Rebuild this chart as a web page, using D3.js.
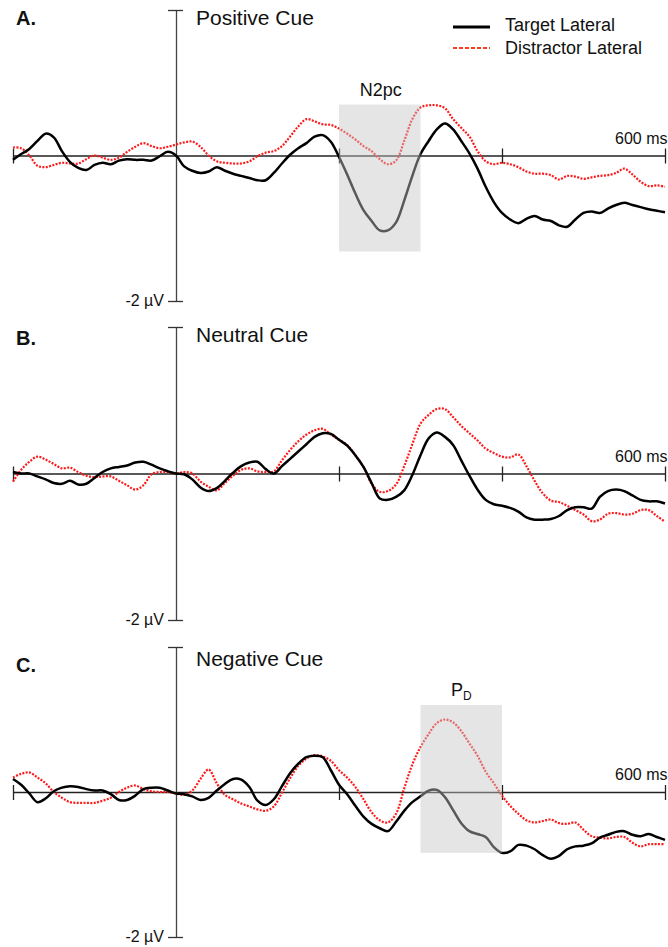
<!DOCTYPE html>
<html>
<head>
<meta charset="utf-8">
<script src="https://cdn.jsdelivr.net/npm/d3@7"></script>
<style>
  html, body { margin: 0; padding: 0; background: #fff; }
  svg { display: block; font-family: "Liberation Sans", Arial, Helvetica, sans-serif; }
</style>
</head>
<body>
<svg id="chart" width="668" height="947"></svg>
<script>
// ── data (µV, sampled every 10 ms from -200 to 600 ms) ──────────────────
const times = [-200,-190,-180,-170,-160,-150,-140,-130,-120,-110,-100,-90,-80,-70,-60,-50,-40,-30,-20,-10,
  0,10,20,30,40,50,60,70,80,90,100,110,120,130,140,150,160,170,180,190,
  200,210,220,230,240,250,260,270,280,290,300,310,320,330,340,350,360,370,380,390,
  400,410,420,430,440,450,460,470,480,490,500,510,520,530,540,550,560,570,580,590,600];

const panelNames = ['Positive Cue', 'Neutral Cue', 'Negative Cue'];
const panelLetters = ['A.', 'B.', 'C.'];
const seriesNames = ['Target Lateral', 'Distractor Lateral'];

const targetPositive = [-0.06,0.02,0.09,0.20,0.30,0.25,0.06,-0.09,-0.17,-0.20,-0.13,-0.10,-0.12,-0.07,-0.05,-0.06,-0.06,-0.07,-0.01,0.05,
  0.00,-0.15,-0.21,-0.24,-0.22,-0.16,-0.21,-0.25,-0.28,-0.31,-0.34,-0.34,-0.24,-0.11,0.01,0.10,0.17,0.26,0.28,0.19,
  -0.02,-0.26,-0.52,-0.75,-0.90,-1.03,-1.03,-0.92,-0.62,-0.28,0.02,0.20,0.36,0.44,0.36,0.20,0.03,-0.18,-0.43,-0.64,
  -0.79,-0.88,-0.93,-0.87,-0.83,-0.88,-0.90,-0.96,-0.98,-0.88,-0.79,-0.77,-0.79,-0.73,-0.68,-0.65,-0.68,-0.71,-0.74,-0.76,-0.78];
const distractorPositive = [0.11,0.10,0.00,-0.14,-0.16,-0.13,-0.10,-0.11,-0.11,-0.05,0.00,-0.03,-0.06,-0.03,0.05,0.12,0.17,0.13,0.10,0.12,
  0.15,0.18,0.19,0.12,0.00,-0.08,-0.10,-0.11,-0.11,-0.08,-0.01,0.04,0.06,0.13,0.26,0.40,0.50,0.47,0.43,0.42,
  0.37,0.30,0.22,0.13,0.06,-0.05,-0.12,-0.07,0.20,0.50,0.66,0.69,0.69,0.65,0.50,0.38,0.26,0.06,-0.08,-0.12,
  -0.10,-0.12,-0.16,-0.22,-0.25,-0.25,-0.27,-0.33,-0.28,-0.29,-0.32,-0.30,-0.28,-0.27,-0.24,-0.18,-0.26,-0.36,-0.42,-0.41,-0.43];

const targetNeutral = [0.02,0.00,0.00,-0.04,-0.08,-0.13,-0.14,-0.10,-0.15,-0.14,-0.06,0.02,0.07,0.09,0.11,0.15,0.16,0.12,0.07,0.03,
  0.00,-0.01,-0.08,-0.19,-0.24,-0.20,-0.10,0.01,0.10,0.15,0.16,0.06,0.00,0.10,0.20,0.30,0.40,0.50,0.55,0.54,
  0.46,0.38,0.25,0.09,-0.13,-0.34,-0.36,-0.32,-0.23,-0.02,0.25,0.48,0.56,0.50,0.39,0.18,-0.03,-0.22,-0.36,-0.42,
  -0.44,-0.47,-0.52,-0.60,-0.63,-0.63,-0.62,-0.58,-0.50,-0.46,-0.46,-0.48,-0.32,-0.24,-0.22,-0.24,-0.30,-0.36,-0.38,-0.38,-0.41];
const distractorNeutral = [-0.11,0.05,0.16,0.23,0.19,0.13,0.07,0.08,0.02,-0.03,-0.05,-0.04,-0.04,-0.10,-0.16,-0.22,-0.16,-0.01,0.02,0.02,
  0.00,0.02,0.00,-0.11,-0.18,-0.23,-0.13,-0.03,0.05,0.07,0.03,0.02,0.03,0.18,0.32,0.44,0.53,0.59,0.61,0.53,
  0.46,0.39,0.25,0.09,-0.14,-0.25,-0.24,-0.15,0.10,0.40,0.68,0.80,0.88,0.88,0.77,0.65,0.55,0.45,0.34,0.28,
  0.23,0.22,0.26,0.10,-0.10,-0.27,-0.37,-0.39,-0.44,-0.50,-0.56,-0.65,-0.63,-0.55,-0.54,-0.56,-0.55,-0.50,-0.50,-0.58,-0.66];

const targetNegative = [0.18,0.10,-0.02,-0.14,-0.09,0.01,0.06,0.08,0.07,0.04,0.02,0.02,-0.03,-0.11,-0.11,-0.05,0.04,0.06,0.06,0.02,
  -0.02,-0.03,-0.06,-0.11,-0.08,0.02,0.11,0.18,0.17,0.07,-0.12,-0.18,-0.10,0.08,0.26,0.39,0.48,0.50,0.48,0.30,
  0.10,-0.03,-0.19,-0.34,-0.44,-0.50,-0.54,-0.41,-0.26,-0.14,-0.06,0.02,0.03,-0.07,-0.25,-0.43,-0.54,-0.58,-0.62,-0.76,
  -0.84,-0.82,-0.73,-0.74,-0.79,-0.87,-0.92,-0.88,-0.79,-0.75,-0.74,-0.71,-0.63,-0.59,-0.55,-0.54,-0.59,-0.61,-0.58,-0.62,-0.66];
const distractorNegative = [0.20,0.25,0.27,0.20,0.12,0.00,-0.08,-0.14,-0.15,-0.15,-0.15,-0.12,-0.08,0.00,0.06,0.09,0.04,0.01,0.00,0.00,
  -0.02,-0.04,0.02,0.18,0.31,0.12,-0.04,-0.10,-0.16,-0.20,-0.24,-0.26,-0.20,-0.01,0.19,0.36,0.46,0.51,0.49,0.43,
  0.30,0.20,0.07,-0.10,-0.28,-0.39,-0.42,-0.30,0.05,0.38,0.62,0.80,0.95,1.00,0.96,0.84,0.67,0.50,0.28,0.12,
  -0.05,-0.19,-0.30,-0.39,-0.42,-0.40,-0.38,-0.43,-0.44,-0.42,-0.52,-0.61,-0.63,-0.64,-0.62,-0.62,-0.70,-0.75,-0.72,-0.72,-0.72];

const targetSeries = [targetPositive, targetNeutral, targetNegative];
const distractorSeries = [distractorPositive, distractorNeutral, distractorNegative];

// highlighted component windows
const windows = [
  { panel: 0, t0: 200, t1: 300, vTop: 0.70, vBottom: -1.32, label: 'N2pc', sub: '' },
  { panel: 2, t0: 300, t1: 400, vTop: 1.20, vBottom: -0.84, label: 'P', sub: 'D' }
];

const xTicks = [-200, 200, 400, 600];
const yTicks = [-2, 2];

// ── layout ───────────────────────────────────────────────────────────────
const layout = [
  { top: 10,  bottom: 301, letterY: 25,  titleY: 25 },
  { top: 327, bottom: 620, letterY: 345, titleY: 342 },
  { top: 647, bottom: 937, letterY: 672, titleY: 666 }
];

const svg = d3.select('#chart');
const x = d3.scaleLinear().domain([-200, 600]).range([13, 665]);

const lineStyle = {
  target:     { stroke: '#000', width: 2.5, dash: null },
  distractor: { stroke: '#ff1a1a', width: 2.2, dash: '2 1.4' }
};

layout.forEach((L, i) => {
  const y = d3.scaleLinear().domain([-2, 2]).range([L.bottom, L.top]);
  const g = svg.append('g');

  const line = d3.line()
    .x((d, j) => x(times[j]))
    .y(d => y(d))
    .curve(d3.curveCatmullRom.alpha(0.5));

  // x axis at 0 µV
  const xAxis = d3.axisBottom(x).tickValues(xTicks)
    .tickFormat(d => d === 600 ? '600 ms' : '').tickSizeOuter(0);
  const xg = g.append('g').attr('transform', `translate(0,${y(0)})`).call(xAxis);
  xg.select('.domain').attr('stroke', '#222').attr('stroke-width', 1.3);
  xg.selectAll('.tick line').attr('y1', -7).attr('y2', 8).attr('stroke', '#222').attr('stroke-width', 1.3);
  xg.selectAll('.tick text').attr('y', -12).attr('dy', 0).attr('x', 2)
    .attr('text-anchor', 'end').attr('font-size', 16).attr('fill', '#111')
    .style('font-family', '"Liberation Sans", Arial, sans-serif');

  // y axis at 0 ms
  const yAxis = d3.axisLeft(y).tickValues(yTicks)
    .tickFormat(d => d === -2 ? '-2 µV' : '').tickSizeOuter(0);
  const yg = g.append('g').attr('transform', `translate(${x(0)},0)`).call(yAxis);
  yg.select('.domain').attr('stroke', '#444').attr('stroke-width', 1.3);
  yg.selectAll('.tick line').attr('x1', -8).attr('x2', 7).attr('stroke', '#333').attr('stroke-width', 1.3);
  yg.selectAll('.tick text').attr('x', -12).attr('dy', '0.3em')
    .attr('font-size', 16).attr('fill', '#111')
    .style('font-family', '"Liberation Sans", Arial, sans-serif');

  // waveforms
  g.append('path').datum(distractorSeries[i])
    .attr('d', line).attr('fill', 'none')
    .attr('stroke', lineStyle.distractor.stroke)
    .attr('stroke-width', lineStyle.distractor.width)
    .attr('stroke-dasharray', lineStyle.distractor.dash);
  g.append('path').datum(targetSeries[i])
    .attr('d', line).attr('fill', 'none')
    .attr('stroke', lineStyle.target.stroke)
    .attr('stroke-width', lineStyle.target.width)
    .attr('stroke-linejoin', 'round');

  // shaded windows sit on top of the waves, so the lines look faded inside
  windows.filter(w => w.panel === i).forEach(w => {
    g.append('rect')
      .attr('x', x(w.t0)).attr('width', x(w.t1) - x(w.t0))
      .attr('y', y(w.vTop)).attr('height', y(w.vBottom) - y(w.vTop))
      .attr('fill', '#c6c6c6').attr('fill-opacity', 0.45);
    const t = g.append('text')
      .attr('x', (x(w.t0) + x(w.t1)) / 2 + (w.sub ? 0 : 1))
      .attr('y', y(w.vTop) - 9)
      .attr('text-anchor', 'middle').attr('font-size', 18).attr('fill', '#111');
    t.append('tspan').text(w.label);
    if (w.sub) t.append('tspan').attr('font-size', 12).attr('dy', 4).text(w.sub);
  });

  // panel letter + title
  g.append('text').attr('x', 16).attr('y', L.letterY)
    .attr('font-size', 20).attr('font-weight', 'bold').attr('fill', '#111')
    .text(panelLetters[i]);
  g.append('text').attr('x', x(0) + 20).attr('y', L.titleY)
    .attr('font-size', 21).attr('fill', '#111')
    .text(panelNames[i]);
});

// legend
const legend = svg.append('g').attr('transform', 'translate(453,0)');
const legendRows = [
  { name: seriesNames[0], color: '#000', y: 27, textY: 31, dash: null, width: 3.2 },
  { name: seriesNames[1], color: '#ff3b1f', y: 48, textY: 54, dash: '4 2', width: 2 }
];
legendRows.forEach(r => {
  legend.append('line').attr('x1', 0).attr('x2', 37).attr('y1', r.y).attr('y2', r.y)
    .attr('stroke', r.color)
    .attr('stroke-width', r.width).attr('stroke-dasharray', r.dash);
  legend.append('text').attr('x', 52).attr('y', r.textY)
    .attr('font-size', 18).attr('fill', '#111').text(r.name);
});
</script>
</body>
</html>
